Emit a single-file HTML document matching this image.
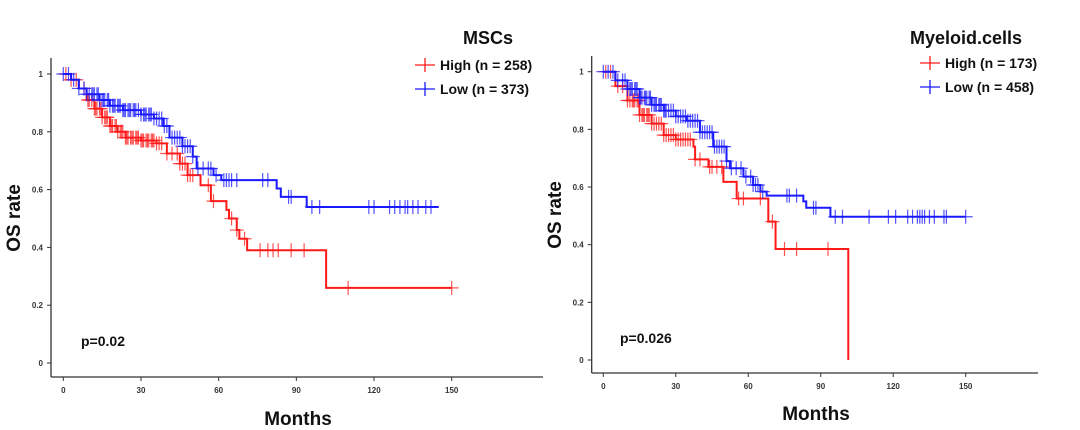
<!DOCTYPE html>
<html><head><meta charset="utf-8"><style>
html,body{margin:0;padding:0;background:#fff;}
svg{display:block;font-family:"Liberation Sans",Arial,sans-serif;}
</style></head><body>
<svg id="c" width="1080" height="430" viewBox="0 0 1080 430"></svg>
<script>
// ---- Data: MSCs panel ----
const mscHighT = [0,3,6,9,12,15,18,21,24,30,36,40,45,48,53,57,63,64,67,68,71,101.5];
const mscHighS = [1,0.98,0.95,0.91,0.88,0.85,0.82,0.80,0.78,0.77,0.76,0.725,0.69,0.65,0.615,0.56,0.53,0.50,0.46,0.43,0.39,0.26];
const mscHighEnd = 150;
const mscHighCens = [1,3,5,8,9.5,10,11,12,12.5,13,14,14.5,15,16,16.5,17,18,18.5,19,20,20.5,21,22,22.5,23,24,24.5,25,26,26.5,27,28,28.5,29,30,30.5,31,32,32.5,33,34,34.5,35,36,37,38,40,42,44,45,46,47,48,49,50,56,58,65,67,70,76,79,81,83,88,93,110,150];
const mscLowT = [0,3,6,9,14,18,23,30,35,38.6,41,46,50,51.5,58,61,82.4,84,94];
const mscLowS = [1,0.98,0.95,0.93,0.91,0.89,0.875,0.86,0.846,0.82,0.78,0.75,0.714,0.673,0.65,0.633,0.604,0.575,0.54];
const mscLowEnd = 145;
const mscLowCens = [0,2,4,6,8,9,10,11,11.5,12,13,13.5,14,15,15.5,16,17,17.5,18,19,19.5,20,21,21.5,22,23,23.5,24,25,25.5,26,27,27.5,28,29,30,31,31.5,32,33,33.5,34,35,36,37,38,39,40,42,43,44,45,46,47,48,49,50,52,54,56,57,59,62,63,64,65,67,77,79,87,88,96,99,118,120,126,128,130,132,133,135,137,140,142];
// ---- Data: Myeloid.cells panel ----
const myeHighT = [0,5,10,15,20,25,30,37.3,38,43.5,49.7,55.2,68.3,71.3,101.4];
const myeHighS = [1,0.95,0.9,0.85,0.82,0.78,0.765,0.74,0.696,0.67,0.618,0.56,0.48,0.385,0];
const myeHighEnd = 101.4;
const myeHighCens = [1,3,6,8,10,11,12,12.5,13,14,14.5,15,16,16.5,17,18,18.5,19,20,21,22,23,24,25,26,27,28,29,30,31,32,33,34,35,36,38,40,44,45,47,49,56,58,65,70,75,80,93];
const myeLowT = [0,5,10,15,20,25,30,34.5,40,45.5,51,52.4,58,62,65,67.6,82.8,84,94];
const myeLowS = [1,0.97,0.94,0.91,0.885,0.865,0.845,0.83,0.79,0.74,0.69,0.665,0.636,0.607,0.584,0.57,0.55,0.528,0.497];
const myeLowEnd = 150;
const myeLowCens = [0,2,4,6,8,9,10,11,11.5,12,13,13.5,14,15,15.5,16,17,17.5,18,19,19.5,20,21,21.5,22,23,23.5,24,25,25.5,26,27,28,29,30,31,32,33,34,35,36,37,38,39,40,41,42,43,44,45,46,47,48,49,50,51,53,55,57,59,61,62,63,64,66,76,77,80,87,88,96,99,110,118,121,126,128,130,131,132,133,135,137,141,142,150];
const yTicks = [0,0.2,0.4,0.6,0.8,1];
const yTickLabels = ["0","0.2","0.4","0.6","0.8","1"];
const xTicks = [0,30,60,90,120,150];

const NS="http://www.w3.org/2000/svg";
const svg=document.getElementById('c');
function mk(tag,attrs,parent){const e=document.createElementNS(NS,tag);for(const k in attrs)e.setAttribute(k,attrs[k]);(parent||svg).appendChild(e);return e;}
function txt(s,attrs,parent){const e=mk('text',attrs,parent);e.textContent=s;return e;}

function panel(cfg){
  const g=mk('g',{});
  
  
  const X=m=>cfg.x0+(m/150)*(cfg.x150-cfg.x0);
  const Y=s=>cfg.y0+(s)*(cfg.y1-cfg.y0);
  const ya=mk('line',{x1:cfg.ax,y1:cfg.axTop,x2:cfg.ax,y2:cfg.axY,stroke:'#333','stroke-width':1.3},g);
  
  const xa=mk('line',{x1:cfg.ax,y1:cfg.axY,x2:cfg.axRight,y2:cfg.axY,stroke:'#333','stroke-width':1.3},g);
  
  yTicks.forEach((v,i)=>{
    mk('line',{x1:cfg.ax-4,y1:Y(v),x2:cfg.ax,y2:Y(v),stroke:'#333'},g);
    const t=txt(yTickLabels[i],{x:cfg.ax-8,y:Y(v)+3,'font-size':8,'font-weight':'bold','text-anchor':'end',fill:'#333'},g);
    
  });
  xTicks.forEach(v=>{
    mk('line',{x1:X(v),y1:cfg.axY,x2:X(v),y2:cfg.axY+4,stroke:'#333'},g);
    const t=txt(String(v),{x:X(v),y:cfg.axY+16,'font-size':8,'font-weight':'bold','text-anchor':'middle',fill:'#333'},g);
    
  });
  function series(T,S,end,cens,color,nm){
    let d='M'+X(T[0])+','+Y(S[0]);
    for(let i=1;i<T.length;i++){d+=' H'+X(T[i])+' V'+Y(S[i]);}
    d+=' H'+X(end);
    const p=mk('path',{d:d,fill:'none',stroke:color,'stroke-width':2},g);
    
    const surv=t=>{let s=S[0];for(let i=0;i<T.length;i++){if(T[i]<=t)s=S[i];}return s;};
    cens.forEach(t=>{
      const cx=X(t),cy=Y(surv(t));
      const c=mk('path',{d:`M${cx-7},${cy} H${cx+7} M${cx},${cy-7} V${cy+7}`,stroke:color,'stroke-width':1.2,'stroke-opacity':0.75,fill:'none'},g);
      
    });
  }
  series(cfg.hT,cfg.hS,cfg.hEnd,cfg.hC,'#ff1a1a','high');
  series(cfg.lT,cfg.lS,cfg.lEnd,cfg.lC,'#1a1aff','low');
  const ti=txt(cfg.title,{x:cfg.titleX,y:44,'font-size':18,'font-weight':'bold','text-anchor':'middle',fill:'#111'},g);
  
  [[cfg.hLab,'#ff1a1a',cfg.legY],[cfg.lLab,'#1a1aff',cfg.legY+24]].forEach(([lab,col,yy],i)=>{
    const lg=mk('g',{},g);
    
    
    mk('path',{d:`M${cfg.legX},${yy} H${cfg.legX+20} M${cfg.legX+10},${yy-7} V${yy+7}`,stroke:col,'stroke-width':1.3,fill:'none'},lg);
    txt(lab,{x:cfg.legX+25,y:yy+5,'font-size':14,'font-weight':'bold',fill:'#111'},lg);
  });
  const pv=txt(cfg.p,{x:cfg.pX,y:cfg.pY,'font-size':14,'font-weight':'bold',fill:'#111'},g);
  
  const xt=txt('Months',{x:cfg.monX,y:cfg.monY,'font-size':19,'font-weight':'bold','text-anchor':'middle',fill:'#111'},g);
  
  const yt=txt('OS rate',{x:0,y:0,'font-size':19,'font-weight':'bold','text-anchor':'middle',fill:'#111',transform:`translate(${cfg.osX},${cfg.osY}) rotate(-90)`},g);
  
}

panel({name:'mscs',x0:63.3,x150:451.7,y0:363,y1:74,ax:51,axTop:58,axY:377,axRight:543,
  hT:mscHighT,hS:mscHighS,hEnd:mscHighEnd,hC:mscHighCens,lT:mscLowT,lS:mscLowS,lEnd:mscLowEnd,lC:mscLowCens,
  title:'MSCs',titleX:488,legX:415,legY:65,hLab:'High (n = 258)',lLab:'Low (n = 373)',
  p:'p=0.02',pX:81,pY:346,monX:298,monY:425,osX:20,osY:218});
panel({name:'myeloid-cells',x0:603.3,x150:965.7,y0:360,y1:71.7,ax:591.7,axTop:56,axY:373,axRight:1038,
  hT:myeHighT,hS:myeHighS,hEnd:myeHighEnd,hC:myeHighCens,lT:myeLowT,lS:myeLowS,lEnd:myeLowEnd,lC:myeLowCens,
  title:'Myeloid.cells',titleX:966,legX:920,legY:63,hLab:'High (n = 173)',lLab:'Low (n = 458)',
  p:'p=0.026',pX:620,pY:343,monX:816,monY:420,osX:561,osY:215});
</script>
</body></html>
